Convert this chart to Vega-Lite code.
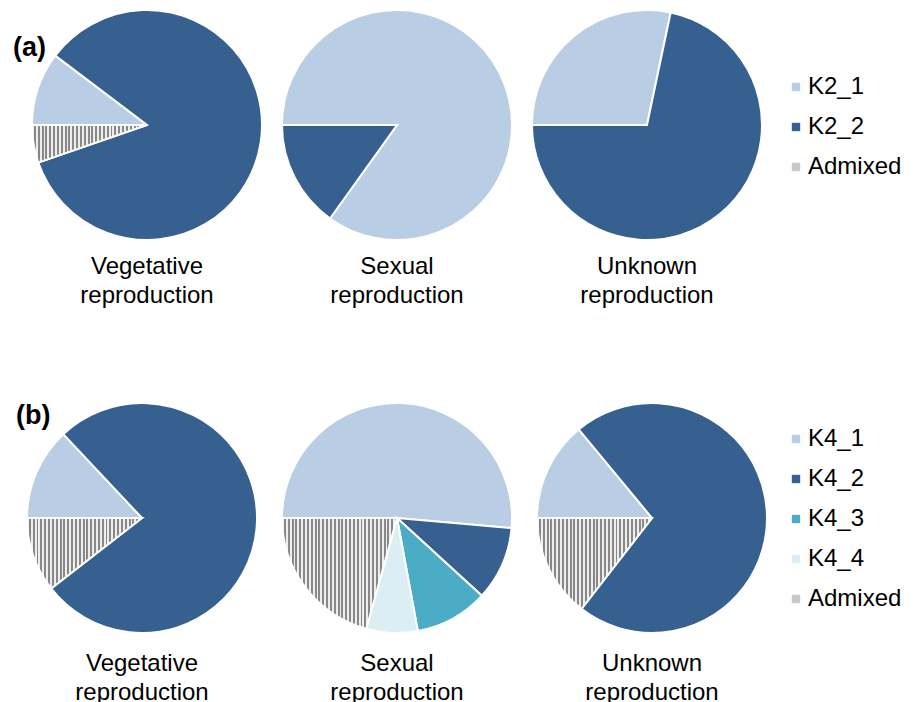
{
  "$schema": "https://vega.github.io/schema/vega-lite/v6.json",
  "padding": {"left": 13, "top": 6, "right": 5, "bottom": 5},
  "background": "white",
  "config": {"view": {"stroke": null}, "font": "Liberation Sans"},
  "data": {
    "values": [
      {"panel": "a", "repro": "Vegetative reproduction", "cluster": "K2_1", "ord": 1, "value": 10.3},
      {"panel": "a", "repro": "Vegetative reproduction", "cluster": "K2_2", "ord": 2, "value": 84.4},
      {"panel": "a", "repro": "Vegetative reproduction", "cluster": "Admixed", "ord": 5, "value": 5.3},
      {"panel": "a", "repro": "Sexual reproduction", "cluster": "K2_1", "ord": 1, "value": 84.9},
      {"panel": "a", "repro": "Sexual reproduction", "cluster": "K2_2", "ord": 2, "value": 15.1},
      {"panel": "a", "repro": "Unknown reproduction", "cluster": "K2_1", "ord": 1, "value": 28.3},
      {"panel": "a", "repro": "Unknown reproduction", "cluster": "K2_2", "ord": 2, "value": 71.7},
      {"panel": "b", "repro": "Vegetative reproduction", "cluster": "K4_1", "ord": 1, "value": 13.0},
      {"panel": "b", "repro": "Vegetative reproduction", "cluster": "K4_2", "ord": 2, "value": 76.5},
      {"panel": "b", "repro": "Vegetative reproduction", "cluster": "Admixed", "ord": 5, "value": 10.5},
      {"panel": "b", "repro": "Sexual reproduction", "cluster": "K4_1", "ord": 1, "value": 51.4},
      {"panel": "b", "repro": "Sexual reproduction", "cluster": "K4_2", "ord": 2, "value": 10.4},
      {"panel": "b", "repro": "Sexual reproduction", "cluster": "K4_3", "ord": 3, "value": 10.3},
      {"panel": "b", "repro": "Sexual reproduction", "cluster": "K4_4", "ord": 4, "value": 7.2},
      {"panel": "b", "repro": "Sexual reproduction", "cluster": "Admixed", "ord": 5, "value": 20.7},
      {"panel": "b", "repro": "Unknown reproduction", "cluster": "K4_1", "ord": 1, "value": 14.0},
      {"panel": "b", "repro": "Unknown reproduction", "cluster": "K4_2", "ord": 2, "value": 71.5},
      {"panel": "b", "repro": "Unknown reproduction", "cluster": "Admixed", "ord": 5, "value": 14.5}
    ]
  },
  "vconcat": [
    {
      "transform": [{"filter": "datum.panel == 'a'"}],
      "title": {"text": "(a)", "anchor": "start", "frame": "group", "orient": "top", "offset": 0, "baseline": "middle", "align": "left", "dy": 69, "dx": -19, "fontSize": 27, "fontWeight": "bold", "font": "Liberation Sans", "color": "black"},
      "spacing": 12,
      "facet": {
        "column": {
          "field": "repro", "type": "nominal",
          "sort": ["Vegetative reproduction", "Sexual reproduction", "Unknown reproduction"],
          "header": {"title": null, "labelOrient": "bottom", "labelFontSize": 24, "labelFont": "Liberation Sans", "labelColor": "black", "labelExpr": "split(datum.value, ' ')", "labelLineHeight": 29, "labelPadding": 11}
        }
      },
      "spec": {
        "width": 230, "height": 230,
        "mark": {"type": "arc", "stroke": "white", "strokeWidth": 2},
        "encoding": {
          "theta": {"field": "value", "type": "quantitative", "stack": true, "scale": {"range": [4.712389, 10.995574]}},
          "color": {
            "condition": {"test": "datum.cluster === 'Admixed'", "value": {"gradient": "linear", "x1": 0, "y1": 0, "x2": 1, "y2": 0, "stops": [
              {"offset": 0, "color": "#eee"}, {"offset": 0.0167, "color": "#eee"}, {"offset": 0.0167, "color": "#888"}, {"offset": 0.0333, "color": "#888"},
              {"offset": 0.0333, "color": "#eee"}, {"offset": 0.05, "color": "#eee"}, {"offset": 0.05, "color": "#888"}, {"offset": 0.0667, "color": "#888"},
              {"offset": 0.0667, "color": "#eee"}, {"offset": 0.0833, "color": "#eee"}, {"offset": 0.0833, "color": "#888"}, {"offset": 0.1, "color": "#888"},
              {"offset": 0.1, "color": "#eee"}, {"offset": 0.1167, "color": "#eee"}, {"offset": 0.1167, "color": "#888"}, {"offset": 0.1333, "color": "#888"},
              {"offset": 0.1333, "color": "#eee"}, {"offset": 0.15, "color": "#eee"}, {"offset": 0.15, "color": "#888"}, {"offset": 0.1667, "color": "#888"},
              {"offset": 0.1667, "color": "#eee"}, {"offset": 0.1833, "color": "#eee"}, {"offset": 0.1833, "color": "#888"}, {"offset": 0.2, "color": "#888"},
              {"offset": 0.2, "color": "#eee"}, {"offset": 0.2167, "color": "#eee"}, {"offset": 0.2167, "color": "#888"}, {"offset": 0.2333, "color": "#888"},
              {"offset": 0.2333, "color": "#eee"}, {"offset": 0.25, "color": "#eee"}, {"offset": 0.25, "color": "#888"}, {"offset": 0.2667, "color": "#888"},
              {"offset": 0.2667, "color": "#eee"}, {"offset": 0.2833, "color": "#eee"}, {"offset": 0.2833, "color": "#888"}, {"offset": 0.3, "color": "#888"},
              {"offset": 0.3, "color": "#eee"}, {"offset": 0.3167, "color": "#eee"}, {"offset": 0.3167, "color": "#888"}, {"offset": 0.3333, "color": "#888"},
              {"offset": 0.3333, "color": "#eee"}, {"offset": 0.35, "color": "#eee"}, {"offset": 0.35, "color": "#888"}, {"offset": 0.3667, "color": "#888"},
              {"offset": 0.3667, "color": "#eee"}, {"offset": 0.3833, "color": "#eee"}, {"offset": 0.3833, "color": "#888"}, {"offset": 0.4, "color": "#888"},
              {"offset": 0.4, "color": "#eee"}, {"offset": 0.4167, "color": "#eee"}, {"offset": 0.4167, "color": "#888"}, {"offset": 0.4333, "color": "#888"},
              {"offset": 0.4333, "color": "#eee"}, {"offset": 0.45, "color": "#eee"}, {"offset": 0.45, "color": "#888"}, {"offset": 0.4667, "color": "#888"},
              {"offset": 0.4667, "color": "#eee"}, {"offset": 0.4833, "color": "#eee"}, {"offset": 0.4833, "color": "#888"}, {"offset": 0.5, "color": "#888"},
              {"offset": 0.5, "color": "#eee"}, {"offset": 0.5167, "color": "#eee"}, {"offset": 0.5167, "color": "#888"}, {"offset": 0.5333, "color": "#888"},
              {"offset": 0.5333, "color": "#eee"}, {"offset": 0.55, "color": "#eee"}, {"offset": 0.55, "color": "#888"}, {"offset": 0.5667, "color": "#888"},
              {"offset": 0.5667, "color": "#eee"}, {"offset": 0.5833, "color": "#eee"}, {"offset": 0.5833, "color": "#888"}, {"offset": 0.6, "color": "#888"},
              {"offset": 0.6, "color": "#eee"}, {"offset": 0.6167, "color": "#eee"}, {"offset": 0.6167, "color": "#888"}, {"offset": 0.6333, "color": "#888"},
              {"offset": 0.6333, "color": "#eee"}, {"offset": 0.65, "color": "#eee"}, {"offset": 0.65, "color": "#888"}, {"offset": 0.6667, "color": "#888"},
              {"offset": 0.6667, "color": "#eee"}, {"offset": 0.6833, "color": "#eee"}, {"offset": 0.6833, "color": "#888"}, {"offset": 0.7, "color": "#888"},
              {"offset": 0.7, "color": "#eee"}, {"offset": 0.7167, "color": "#eee"}, {"offset": 0.7167, "color": "#888"}, {"offset": 0.7333, "color": "#888"},
              {"offset": 0.7333, "color": "#eee"}, {"offset": 0.75, "color": "#eee"}, {"offset": 0.75, "color": "#888"}, {"offset": 0.7667, "color": "#888"},
              {"offset": 0.7667, "color": "#eee"}, {"offset": 0.7833, "color": "#eee"}, {"offset": 0.7833, "color": "#888"}, {"offset": 0.8, "color": "#888"},
              {"offset": 0.8, "color": "#eee"}, {"offset": 0.8167, "color": "#eee"}, {"offset": 0.8167, "color": "#888"}, {"offset": 0.8333, "color": "#888"},
              {"offset": 0.8333, "color": "#eee"}, {"offset": 0.85, "color": "#eee"}, {"offset": 0.85, "color": "#888"}, {"offset": 0.8667, "color": "#888"},
              {"offset": 0.8667, "color": "#eee"}, {"offset": 0.8833, "color": "#eee"}, {"offset": 0.8833, "color": "#888"}, {"offset": 0.9, "color": "#888"},
              {"offset": 0.9, "color": "#eee"}, {"offset": 0.9167, "color": "#eee"}, {"offset": 0.9167, "color": "#888"}, {"offset": 0.9333, "color": "#888"},
              {"offset": 0.9333, "color": "#eee"}, {"offset": 0.95, "color": "#eee"}, {"offset": 0.95, "color": "#888"}, {"offset": 0.9667, "color": "#888"},
              {"offset": 0.9667, "color": "#eee"}, {"offset": 0.9833, "color": "#eee"}, {"offset": 0.9833, "color": "#888"}, {"offset": 1, "color": "#888"}
            ]}},
            "field": "cluster", "type": "nominal",
            "scale": {"domain": ["K2_1", "K2_2", "Admixed"], "range": ["#B9CDE5", "#36608F", "#C8C8C8"]},
            "legend": {"title": null, "orient": "none", "legendX": 752, "legendY": 65, "symbolType": "square", "symbolSize": 70, "symbolStrokeWidth": 0, "labelFontSize": 24, "labelFont": "Liberation Sans", "labelColor": "black", "rowPadding": 16, "labelOffset": 0}
          },
          "order": {"field": "ord", "type": "quantitative"}
        }
      }
    },
    {
      "transform": [{"filter": "datum.panel == 'b'"}],
      "title": {"text": "(b)", "anchor": "start", "frame": "group", "orient": "top", "offset": 0, "baseline": "middle", "align": "left", "dy": 44, "dx": -16, "fontSize": 27, "fontWeight": "bold", "font": "Liberation Sans", "color": "black"},
      "spacing": 17,
      "facet": {
        "column": {
          "field": "repro", "type": "nominal",
          "sort": ["Vegetative reproduction", "Sexual reproduction", "Unknown reproduction"],
          "header": {"title": null, "labelOrient": "bottom", "labelFontSize": 24, "labelFont": "Liberation Sans", "labelColor": "black", "labelExpr": "split(datum.value, ' ')", "labelLineHeight": 29, "labelPadding": 15}
        }
      },
      "spec": {
        "width": 220, "height": 230,
        "mark": {"type": "arc", "stroke": "white", "strokeWidth": 2, "outerRadius": 115},
        "encoding": {
          "theta": {"field": "value", "type": "quantitative", "stack": true, "scale": {"range": [4.712389, 10.995574]}},
          "color": {
            "condition": {"test": "datum.cluster === 'Admixed'", "value": {"gradient": "linear", "x1": 0, "y1": 0, "x2": 1, "y2": 0, "stops": [
              {"offset": 0, "color": "#eee"}, {"offset": 0.0167, "color": "#eee"}, {"offset": 0.0167, "color": "#888"}, {"offset": 0.0333, "color": "#888"},
              {"offset": 0.0333, "color": "#eee"}, {"offset": 0.05, "color": "#eee"}, {"offset": 0.05, "color": "#888"}, {"offset": 0.0667, "color": "#888"},
              {"offset": 0.0667, "color": "#eee"}, {"offset": 0.0833, "color": "#eee"}, {"offset": 0.0833, "color": "#888"}, {"offset": 0.1, "color": "#888"},
              {"offset": 0.1, "color": "#eee"}, {"offset": 0.1167, "color": "#eee"}, {"offset": 0.1167, "color": "#888"}, {"offset": 0.1333, "color": "#888"},
              {"offset": 0.1333, "color": "#eee"}, {"offset": 0.15, "color": "#eee"}, {"offset": 0.15, "color": "#888"}, {"offset": 0.1667, "color": "#888"},
              {"offset": 0.1667, "color": "#eee"}, {"offset": 0.1833, "color": "#eee"}, {"offset": 0.1833, "color": "#888"}, {"offset": 0.2, "color": "#888"},
              {"offset": 0.2, "color": "#eee"}, {"offset": 0.2167, "color": "#eee"}, {"offset": 0.2167, "color": "#888"}, {"offset": 0.2333, "color": "#888"},
              {"offset": 0.2333, "color": "#eee"}, {"offset": 0.25, "color": "#eee"}, {"offset": 0.25, "color": "#888"}, {"offset": 0.2667, "color": "#888"},
              {"offset": 0.2667, "color": "#eee"}, {"offset": 0.2833, "color": "#eee"}, {"offset": 0.2833, "color": "#888"}, {"offset": 0.3, "color": "#888"},
              {"offset": 0.3, "color": "#eee"}, {"offset": 0.3167, "color": "#eee"}, {"offset": 0.3167, "color": "#888"}, {"offset": 0.3333, "color": "#888"},
              {"offset": 0.3333, "color": "#eee"}, {"offset": 0.35, "color": "#eee"}, {"offset": 0.35, "color": "#888"}, {"offset": 0.3667, "color": "#888"},
              {"offset": 0.3667, "color": "#eee"}, {"offset": 0.3833, "color": "#eee"}, {"offset": 0.3833, "color": "#888"}, {"offset": 0.4, "color": "#888"},
              {"offset": 0.4, "color": "#eee"}, {"offset": 0.4167, "color": "#eee"}, {"offset": 0.4167, "color": "#888"}, {"offset": 0.4333, "color": "#888"},
              {"offset": 0.4333, "color": "#eee"}, {"offset": 0.45, "color": "#eee"}, {"offset": 0.45, "color": "#888"}, {"offset": 0.4667, "color": "#888"},
              {"offset": 0.4667, "color": "#eee"}, {"offset": 0.4833, "color": "#eee"}, {"offset": 0.4833, "color": "#888"}, {"offset": 0.5, "color": "#888"},
              {"offset": 0.5, "color": "#eee"}, {"offset": 0.5167, "color": "#eee"}, {"offset": 0.5167, "color": "#888"}, {"offset": 0.5333, "color": "#888"},
              {"offset": 0.5333, "color": "#eee"}, {"offset": 0.55, "color": "#eee"}, {"offset": 0.55, "color": "#888"}, {"offset": 0.5667, "color": "#888"},
              {"offset": 0.5667, "color": "#eee"}, {"offset": 0.5833, "color": "#eee"}, {"offset": 0.5833, "color": "#888"}, {"offset": 0.6, "color": "#888"},
              {"offset": 0.6, "color": "#eee"}, {"offset": 0.6167, "color": "#eee"}, {"offset": 0.6167, "color": "#888"}, {"offset": 0.6333, "color": "#888"},
              {"offset": 0.6333, "color": "#eee"}, {"offset": 0.65, "color": "#eee"}, {"offset": 0.65, "color": "#888"}, {"offset": 0.6667, "color": "#888"},
              {"offset": 0.6667, "color": "#eee"}, {"offset": 0.6833, "color": "#eee"}, {"offset": 0.6833, "color": "#888"}, {"offset": 0.7, "color": "#888"},
              {"offset": 0.7, "color": "#eee"}, {"offset": 0.7167, "color": "#eee"}, {"offset": 0.7167, "color": "#888"}, {"offset": 0.7333, "color": "#888"},
              {"offset": 0.7333, "color": "#eee"}, {"offset": 0.75, "color": "#eee"}, {"offset": 0.75, "color": "#888"}, {"offset": 0.7667, "color": "#888"},
              {"offset": 0.7667, "color": "#eee"}, {"offset": 0.7833, "color": "#eee"}, {"offset": 0.7833, "color": "#888"}, {"offset": 0.8, "color": "#888"},
              {"offset": 0.8, "color": "#eee"}, {"offset": 0.8167, "color": "#eee"}, {"offset": 0.8167, "color": "#888"}, {"offset": 0.8333, "color": "#888"},
              {"offset": 0.8333, "color": "#eee"}, {"offset": 0.85, "color": "#eee"}, {"offset": 0.85, "color": "#888"}, {"offset": 0.8667, "color": "#888"},
              {"offset": 0.8667, "color": "#eee"}, {"offset": 0.8833, "color": "#eee"}, {"offset": 0.8833, "color": "#888"}, {"offset": 0.9, "color": "#888"},
              {"offset": 0.9, "color": "#eee"}, {"offset": 0.9167, "color": "#eee"}, {"offset": 0.9167, "color": "#888"}, {"offset": 0.9333, "color": "#888"},
              {"offset": 0.9333, "color": "#eee"}, {"offset": 0.95, "color": "#eee"}, {"offset": 0.95, "color": "#888"}, {"offset": 0.9667, "color": "#888"},
              {"offset": 0.9667, "color": "#eee"}, {"offset": 0.9833, "color": "#eee"}, {"offset": 0.9833, "color": "#888"}, {"offset": 1, "color": "#888"}
            ]}},
            "field": "cluster", "type": "nominal",
            "scale": {"domain": ["K4_1", "K4_2", "K4_3", "K4_4", "Admixed"], "range": ["#B9CDE5", "#36608F", "#4BACC6", "#DBEEF3", "#C8C8C8"]},
            "legend": {"title": null, "orient": "none", "legendX": 752, "legendY": 24, "symbolType": "square", "symbolSize": 70, "symbolStrokeWidth": 0, "labelFontSize": 24, "labelFont": "Liberation Sans", "labelColor": "black", "rowPadding": 16, "labelOffset": 0}
          },
          "order": {"field": "ord", "type": "quantitative"}
        }
      }
    }
  ],
  "spacing": 91,
  "resolve": {"scale": {"color": "independent"}, "legend": {"color": "independent"}}
}
